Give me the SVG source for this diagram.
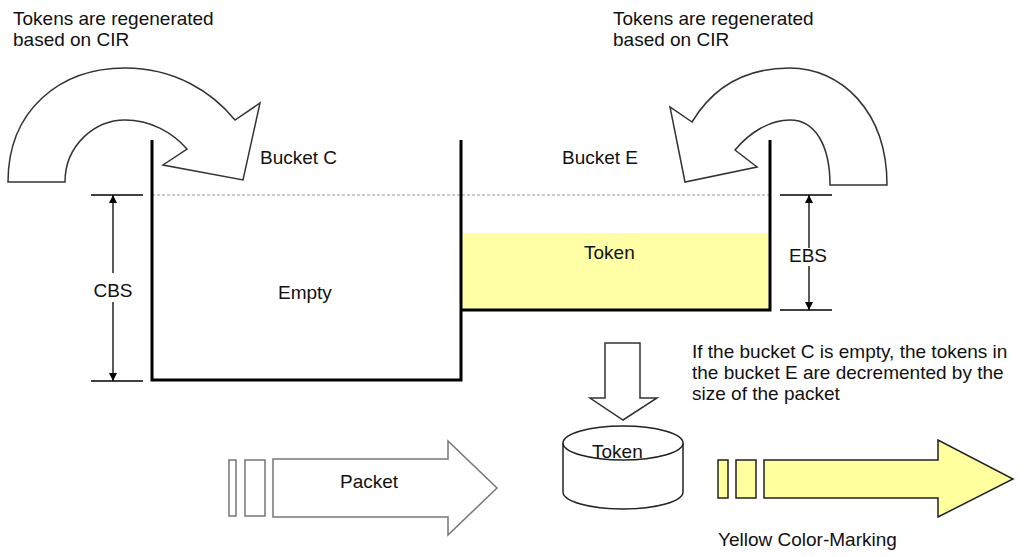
<svg xmlns="http://www.w3.org/2000/svg" width="1035" height="557" viewBox="0 0 1035 557">
  <style>
    text { font-family: "Liberation Sans", Arial, sans-serif; font-size: 19px; fill: #111; }
    .wall { stroke: #000; stroke-width: 3; fill: none; }
    .dim { stroke: #000; stroke-width: 1.3; fill: none; }
    .curve { fill: #fff; stroke: #333; stroke-width: 1.5; stroke-linejoin: miter; }
    .grey { fill: #fff; stroke: #777; stroke-width: 1.5; }
    .yel { fill: #ffff9e; stroke: #222; stroke-width: 1.5; }
  </style>
  <defs>
    <marker id="tip" viewBox="0 0 10 10" refX="10" refY="5" markerWidth="8" markerHeight="10" markerUnits="userSpaceOnUse" orient="auto">
      <path d="M0,0 L10,5 L0,10 Z" fill="#000"/>
    </marker>
  </defs>

  <rect width="1035" height="557" fill="#fff"/>

  <!-- regeneration notes -->
  <g id="note-left">
    <text x="13" y="25">Tokens are regenerated</text>
    <text x="13" y="46">based on CIR</text>
  </g>
  <g id="note-right">
    <text x="613" y="25">Tokens are regenerated</text>
    <text x="613" y="46">based on CIR</text>
  </g>

  <!-- curved refill arrows -->
  <g id="refill-c">
    <path class="curve" d="M8,182 C8,110 60,68 125,68 C175,68 212,92 235,120 L260,103 L243,180 L163,165 L187,149 C172,132 150,120 125,120 C95,120 65,145 65,182 Z"/>
  </g>
  <g id="refill-e">
    <path class="curve" d="M887,185 C887,110 840,68 790,68 C740,68 710,92 692,122 L670,107 L685,182 L757,167 L735,150 C750,132 770,120 790,120 C815,120 830,145 830,185 Z"/>
  </g>

  <!-- token level in bucket E -->
  <rect id="token-fill" x="462" y="233" width="307" height="76" fill="#ffffa6"/>

  <!-- full-capacity level -->
  <line x1="152" y1="195" x2="769" y2="195" stroke="#bbb" stroke-width="1.5" stroke-dasharray="3,2"/>

  <!-- buckets -->
  <g id="bucket-c">
    <path class="wall" d="M152,140 V380 H461 V140"/>
    <text x="260" y="164">Bucket C</text>
    <text x="278" y="299">Empty</text>
  </g>
  <g id="bucket-e">
    <path class="wall" d="M461,310 H770 V140"/>
    <text x="562" y="164">Bucket E</text>
    <text x="584" y="259">Token</text>
  </g>

  <!-- size dimensions -->
  <g id="cbs">
    <line class="dim" x1="91" y1="195" x2="143" y2="195"/>
    <line class="dim" x1="91" y1="381" x2="143" y2="381"/>
    <line class="dim" x1="113" y1="273" x2="113" y2="195" marker-end="url(#tip)"/>
    <line class="dim" x1="113" y1="302" x2="113" y2="381" marker-end="url(#tip)"/>
    <text x="113" y="297" text-anchor="middle">CBS</text>
  </g>
  <g id="ebs">
    <line class="dim" x1="780" y1="195" x2="832" y2="195"/>
    <line class="dim" x1="780" y1="310" x2="832" y2="310"/>
    <line class="dim" x1="809" y1="248" x2="809" y2="195" marker-end="url(#tip)"/>
    <line class="dim" x1="809" y1="266" x2="809" y2="310" marker-end="url(#tip)"/>
    <text x="808" y="262" text-anchor="middle">EBS</text>
  </g>

  <g id="note-decrement">
    <text x="692" y="358">If the bucket C is empty, the tokens in</text>
    <text x="692" y="379">the bucket E are decremented by the</text>
    <text x="692" y="400">size of the packet</text>
  </g>

  <!-- connectors -->
  <g id="connectors">
    <path class="curve" d="M605,343 H640 V398 H657 L623,420 L590,398 H605 Z"/>
  </g>

  <!-- token store -->
  <g id="token-store">
    <path fill="#fff" stroke="#222" stroke-width="1.5" d="M563,443 V492 A60,17 0 0 0 683,492 V443"/>
    <ellipse cx="623" cy="443" rx="60" ry="17" fill="#fff" stroke="#222" stroke-width="1.5"/>
    <text x="592" y="458">Token</text>
  </g>

  <!-- incoming packet -->
  <g id="packet-in">
    <rect class="grey" x="229" y="460" width="7" height="56"/>
    <rect class="grey" x="245" y="460" width="20" height="56"/>
    <path class="grey" d="M273,459 H448 V441 L497,488 L448,535 V517 H273 Z"/>
    <text x="340" y="488">Packet</text>
  </g>

  <!-- marked packet -->
  <g id="packet-yellow">
    <rect class="yel" x="718" y="460" width="10" height="38"/>
    <rect class="yel" x="736" y="460" width="20" height="38"/>
    <path class="yel" d="M764,460 H938 V440 L1013,479 L938,517 V498 H764 Z"/>
    <text x="718" y="546">Yellow Color-Marking</text>
  </g>
</svg>
